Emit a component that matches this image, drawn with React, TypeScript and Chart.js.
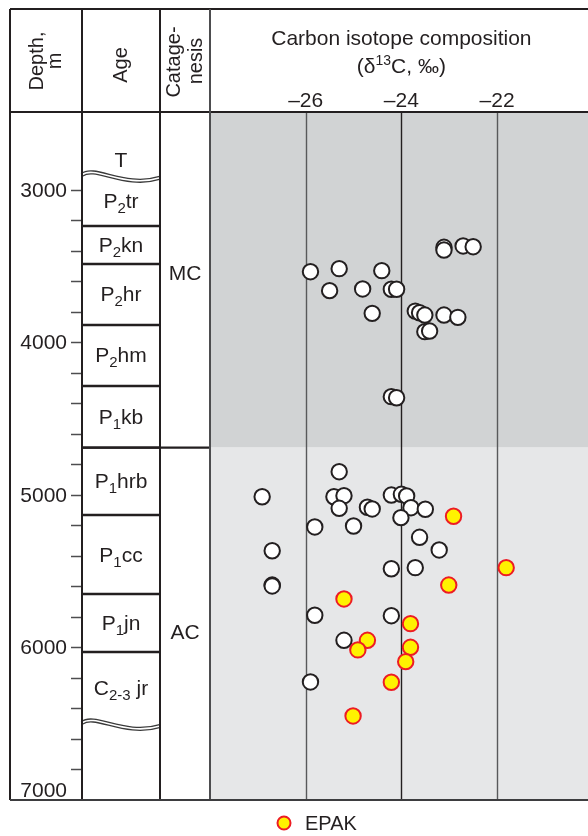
import { useEffect, useRef } from "react";
import { Chart, registerables } from "chart.js";

Chart.register(...registerables);

// ---- data ----
const depthRange = [2490, 7000];
const isotopeRange = [-28, -20.1];
const isotopeTicks = [-26, -24, -22];
const depthLabels = [3000, 4000, 5000, 6000, 7000];
const depthMinorStep = 200;

// Stratigraphic units: symbol, index (subscript), suffix, top and bottom depth (m)
const ageSymbol = ["T", "P", "P", "P", "P", "P", "P", "P", "P", "C"];
const ageIndex = ["", "2", "2", "2", "2", "1", "1", "1", "1", "2-3"];
const ageSuffix = ["", "tr", "kn", "hr", "hm", "kb", "hrb", "cc", "jn", " jr"];
const ageTop = [2690, 2915, 3237, 3486, 3886, 4286, 4690, 5132, 5650, 6030];
const ageBottom = [2915, 3237, 3486, 3886, 4286, 4690, 5132, 5650, 6030, 6508];
const unconformities = [2915, 6508];

// Catagenesis zones
const catagenesisNames = ["MC", "AC"];
const catagenesisTop = [2490, 4690];
const catagenesisBottom = [4690, 7000];
const catagenesisLabelDepth = [3550, 5900];

// δ13C (‰) and depth (m) of samples in the MC zone
const mcIsotope = [
  -23.11, -23.11, -22.71, -22.5, -25.9, -25.3, -24.41, -25.5, -24.81, -24.21,
  -24.1, -24.61, -23.71, -23.62, -23.51, -23.11, -22.82, -23.51, -23.41, -24.21,
  -24.1,
];
const mcDepth = [
  3377, 3395, 3368, 3373, 3537, 3517, 3530, 3661, 3650, 3652, 3652, 3810, 3795,
  3806, 3821, 3821, 3836, 3930, 3926, 4356, 4363,
];

// δ13C (‰) and depth (m) of samples in the AC zone
const acIsotope = [
  -25.3, -26.91, -25.41, -25.2, -25.3, -24.71, -24.61, -24.21, -24.0, -23.89,
  -23.8, -23.5, -24.01, -25.81, -25.0, -23.62, -23.21, -26.7, -24.21, -23.71,
  -26.7, -26.7, -25.81, -24.21, -25.2, -25.9,
];
const acDepth = [
  4848, 5012, 5012, 5005, 5088, 5081, 5092, 5001, 4996, 5007, 5084, 5094, 5149,
  5210, 5204, 5278, 5361, 5366, 5484, 5477, 5591, 5597, 5789, 5792, 5953, 6226,
];

// EPAK samples
const epakIsotope = [
  -22.91, -21.81, -23.01, -25.2, -23.81, -24.71, -24.91, -23.81, -23.91, -24.21,
  -25.01,
];
const epakDepth = [5140, 5477, 5591, 5682, 5844, 5953, 6016, 5999, 6093, 6228, 6449];

// ---- drawing ----
const FONT = '"Liberation Sans", Arial, Helvetica, sans-serif';
const INK = "#231f20";
const GRID = "#58595b";
const MC_FILL = "#d1d3d4";
const AC_FILL = "#e6e7e8";

const W = 588;
const H = 836;
const FRAME_LEFT = 10;
const FRAME_TOP = 9;
const COL_DEPTH_RIGHT = 82;
const COL_AGE_RIGHT = 160;
const COL_CAT_RIGHT = 210;
const HEADER_BOTTOM = 112;
const PLOT_BOTTOM = 800;
const TEXT = 21;

type Part = { text: string; size: number; dy: number };

function richText(ctx: CanvasRenderingContext2D, parts: Part[], cx: number, y: number) {
  const widths = parts.map((p) => {
    ctx.font = `${p.size}px ${FONT}`;
    return ctx.measureText(p.text).width;
  });
  const total = widths.reduce((a, b) => a + b, 0);
  let x = cx - total / 2;
  ctx.textAlign = "left";
  ctx.textBaseline = "alphabetic";
  parts.forEach((p, i) => {
    ctx.font = `${p.size}px ${FONT}`;
    ctx.fillText(p.text, x, y + p.dy);
    x += widths[i];
  });
}

function line(ctx: CanvasRenderingContext2D, x1: number, y1: number, x2: number, y2: number) {
  ctx.beginPath();
  ctx.moveTo(x1, y1);
  ctx.lineTo(x2, y2);
  ctx.stroke();
}

function wavy(ctx: CanvasRenderingContext2D, y0: number) {
  const path = () => {
    ctx.beginPath();
    ctx.moveTo(COL_DEPTH_RIGHT, y0 - 2);
    ctx.bezierCurveTo(95, y0 - 12, 125, y0 + 12, COL_AGE_RIGHT, y0 + 1);
  };
  ctx.save();
  ctx.fillStyle = "#fff";
  ctx.fillRect(COL_DEPTH_RIGHT + 1, y0 - 6, COL_AGE_RIGHT - COL_DEPTH_RIGHT - 2, 12);
  path();
  ctx.strokeStyle = "#3a3a3a";
  ctx.lineWidth = 4.2;
  ctx.stroke();
  path();
  ctx.strokeStyle = "#fff";
  ctx.lineWidth = 1.6;
  ctx.stroke();
  ctx.restore();
}

function rotatedText(ctx: CanvasRenderingContext2D, text: string, x: number, y: number) {
  ctx.save();
  ctx.translate(x, y);
  ctx.rotate(-Math.PI / 2);
  ctx.textAlign = "center";
  ctx.textBaseline = "alphabetic";
  ctx.fillText(text, 0, 0);
  ctx.restore();
}

const columnPlugin = {
  id: "geoColumn",
  beforeDatasetsDraw(chart: Chart) {
    const { ctx, chartArea } = chart;
    const xs = chart.scales.x;
    const ys = chart.scales.y;
    ctx.save();
    // zone shading
    const fills = [MC_FILL, AC_FILL];
    catagenesisNames.forEach((_, i) => {
      const t = ys.getPixelForValue(catagenesisTop[i]);
      const b = ys.getPixelForValue(catagenesisBottom[i]);
      ctx.fillStyle = fills[i];
      ctx.fillRect(chartArea.left, t, chartArea.right - chartArea.left, b - t);
    });
    // vertical grid lines
    ctx.lineWidth = 1.4;
    isotopeTicks.forEach((v) => {
      const x = Math.round(xs.getPixelForValue(v)) + 0.5;
      ctx.strokeStyle = v === -24 ? INK : GRID;
      line(ctx, x, chartArea.top, x, chartArea.bottom);
    });
    ctx.restore();
  },
  afterDraw(chart: Chart) {
    const { ctx, chartArea } = chart;
    const xs = chart.scales.x;
    const ys = chart.scales.y;
    ctx.save();
    ctx.fillStyle = INK;

    // age unit boundaries
    ctx.strokeStyle = INK;
    ctx.lineWidth = 2.4;
    ageTop.forEach((d, i) => {
      if (i === 0 || unconformities.includes(d)) return;
      const y = ys.getPixelForValue(d);
      line(ctx, COL_DEPTH_RIGHT, y, COL_AGE_RIGHT, y);
    });
    // catagenesis boundaries
    catagenesisTop.forEach((d) => {
      if (d <= depthRange[0]) return;
      const y = ys.getPixelForValue(d);
      line(ctx, COL_DEPTH_RIGHT, y, COL_CAT_RIGHT, y);
    });
    unconformities.forEach((d) => wavy(ctx, ys.getPixelForValue(d)));

    // depth ticks
    ctx.strokeStyle = "#4d4d4f";
    ctx.lineWidth = 1.5;
    for (let d = depthLabels[0]; d < depthRange[1]; d += depthMinorStep) {
      const y = Math.round(ys.getPixelForValue(d)) + 0.5;
      line(ctx, 71, y, COL_DEPTH_RIGHT, y);
    }
    ctx.font = `${TEXT}px ${FONT}`;
    ctx.textAlign = "right";
    ctx.textBaseline = "middle";
    depthLabels.forEach((d) => {
      const y = Math.min(ys.getPixelForValue(d), PLOT_BOTTOM - 10);
      ctx.fillText(String(d), 67, y + 1);
    });

    // frame
    ctx.strokeStyle = INK;
    ctx.lineWidth = 2;
    line(ctx, FRAME_LEFT, FRAME_TOP, W, FRAME_TOP);
    line(ctx, FRAME_LEFT, HEADER_BOTTOM, W, HEADER_BOTTOM);
    [FRAME_LEFT, COL_DEPTH_RIGHT, COL_AGE_RIGHT].forEach((x) => line(ctx, x, FRAME_TOP, x, PLOT_BOTTOM));
    ctx.strokeStyle = "#4d4d4f";
    line(ctx, COL_CAT_RIGHT, FRAME_TOP, COL_CAT_RIGHT, PLOT_BOTTOM);
    ctx.strokeStyle = "#3d3d3f";
    line(ctx, FRAME_LEFT, PLOT_BOTTOM, W, PLOT_BOTTOM);

    // age labels
    ctx.fillStyle = INK;
    ageSymbol.forEach((s, i) => {
      const mid = (ys.getPixelForValue(ageTop[i]) + ys.getPixelForValue(ageBottom[i])) / 2;
      const parts: Part[] = [{ text: s, size: TEXT, dy: 0 }];
      if (ageIndex[i]) parts.push({ text: ageIndex[i], size: 15, dy: 5 });
      if (ageSuffix[i]) parts.push({ text: ageSuffix[i], size: TEXT, dy: 0 });
      richText(ctx, parts, 121, mid + 7);
    });

    // catagenesis labels
    ctx.font = `${TEXT}px ${FONT}`;
    ctx.textAlign = "center";
    ctx.textBaseline = "middle";
    catagenesisNames.forEach((n, i) => {
      ctx.fillText(n, 185, ys.getPixelForValue(catagenesisLabelDepth[i]) + 1);
    });

    // column headers
    ctx.font = `20px ${FONT}`;
    rotatedText(ctx, "Depth,", 43, 61);
    rotatedText(ctx, "m", 61, 61);
    rotatedText(ctx, "Age", 127, 65);
    rotatedText(ctx, "Catage-", 180, 62);
    rotatedText(ctx, "nesis", 202, 61);

    // axis title and tick labels
    const cx = (xs.getPixelForValue(isotopeTicks[0]) + xs.getPixelForValue(isotopeTicks[2])) / 2;
    ctx.font = `${TEXT}px ${FONT}`;
    ctx.textAlign = "center";
    ctx.textBaseline = "alphabetic";
    ctx.fillText("Carbon isotope composition", cx, 45);
    richText(
      ctx,
      [
        { text: "(δ", size: TEXT, dy: 0 },
        { text: "13", size: 14, dy: -8 },
        { text: "C, ‰)", size: TEXT, dy: 0 },
      ],
      cx,
      73
    );
    ctx.font = `${TEXT}px ${FONT}`;
    ctx.textAlign = "center";
    isotopeTicks.forEach((v) => {
      ctx.fillText("–" + Math.abs(v), xs.getPixelForValue(v), 107);
    });

    // legend
    const ly = chartArea.bottom + 23;
    ctx.beginPath();
    ctx.arc(284, ly, 6.5, 0, Math.PI * 2);
    ctx.fillStyle = "#fff200";
    ctx.fill();
    ctx.strokeStyle = "#ed1c24";
    ctx.lineWidth = 2;
    ctx.stroke();
    ctx.fillStyle = INK;
    ctx.font = `20px ${FONT}`;
    ctx.textAlign = "left";
    ctx.textBaseline = "middle";
    ctx.fillText("EPAK", 305, ly + 1);
    ctx.restore();
  },
};

const toPoints = (xs: number[], ys: number[]) => xs.map((x, i) => ({ x, y: ys[i] }));

export default function App() {
  const ref = useRef<HTMLCanvasElement>(null);

  useEffect(() => {
    if (!ref.current) return;
    const pointStyle = {
      pointRadius: 7.7,
      pointBorderWidth: 2,
      showLine: false,
    };
    const chart = new Chart(ref.current, {
      type: "scatter",
      data: {
        datasets: [
          {
            label: "EPAK",
            data: toPoints(epakIsotope, epakDepth),
            backgroundColor: "#fff200",
            borderColor: "#ed1c24",
            ...pointStyle,
          },
          {
            label: "MC",
            data: toPoints(mcIsotope, mcDepth),
            backgroundColor: "#ffffff",
            borderColor: INK,
            ...pointStyle,
          },
          {
            label: "AC",
            data: toPoints(acIsotope, acDepth),
            backgroundColor: "#ffffff",
            borderColor: INK,
            ...pointStyle,
          },
        ],
      },
      options: {
        responsive: false,
        maintainAspectRatio: false,
        animation: false,
        events: [],
        layout: {
          autoPadding: false,
          padding: { left: COL_CAT_RIGHT, top: HEADER_BOTTOM, right: 0, bottom: H - PLOT_BOTTOM },
        },
        scales: {
          x: { type: "linear", min: isotopeRange[0], max: isotopeRange[1], display: false },
          y: { type: "linear", min: depthRange[0], max: depthRange[1], reverse: true, display: false },
        },
        plugins: { legend: { display: false }, tooltip: { enabled: false } },
      },
      plugins: [columnPlugin],
    });
    return () => chart.destroy();
  }, []);

  return (
    <canvas
      ref={ref}
      width={W}
      height={H}
      style={{ position: "absolute", left: 0, top: 0, width: W, height: H, background: "#fff" }}
    />
  );
}
